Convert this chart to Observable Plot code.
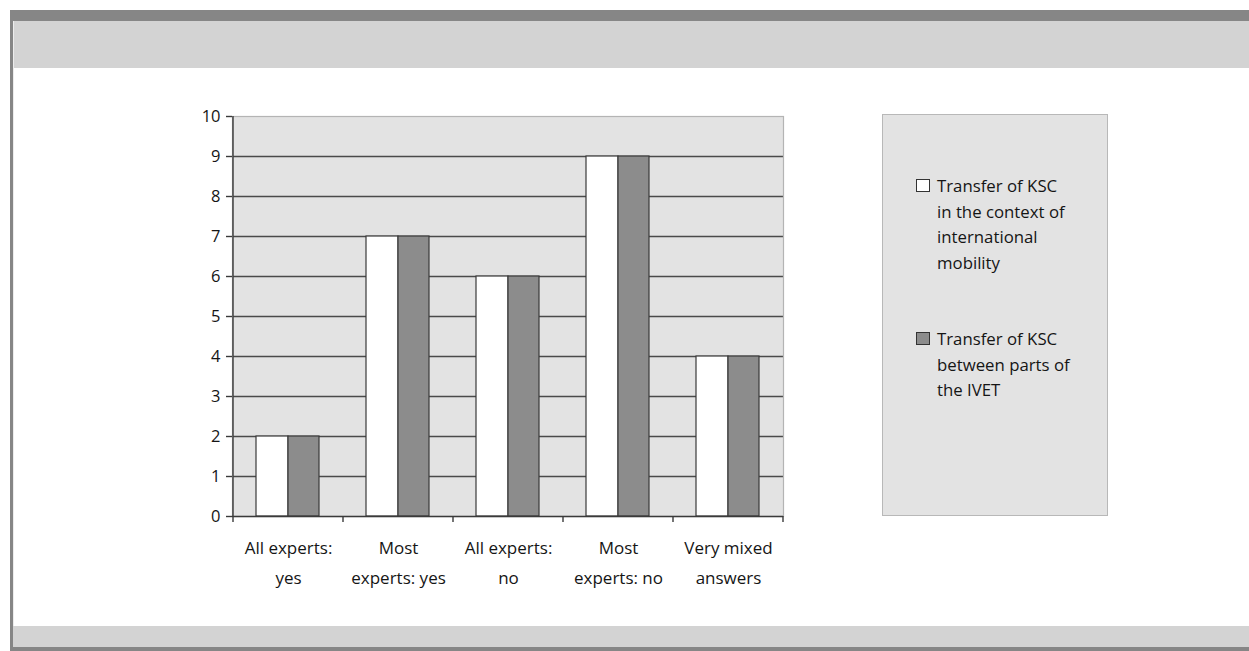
<!DOCTYPE html>
<html>
<head>
<meta charset="utf-8">
<script src="https://cdn.jsdelivr.net/npm/d3@7"></script>
<script src="https://cdn.jsdelivr.net/npm/@observablehq/plot@0.6"></script>
<style>
  html, body { margin: 0; padding: 0; background: #fff; overflow: hidden; }
  body { width: 1249px; height: 651px; position: relative; font-family: "Open Sans", sans-serif; }
  .band { position: absolute; }
  #chart { position: absolute; left: 0; top: 0; }
  #legend { position: absolute; left: 882px; top: 114px; width: 224px; height: 400px;
            background: #e3e3e3; border: 1px solid #b8b8b8; }
  .item { position: absolute; left: 0; font-size: 16.8px; line-height: 25.5px; color: #151515; }
  .swatch { position: absolute; width: 12px; height: 11px; border: 1px solid #333; }
  .label { position: absolute; left: 54px; white-space: nowrap; }
</style>
</head>
<body>
<div class="band" style="left:10px;top:10px;width:1239px;height:11px;background:#868686"></div>
<div class="band" style="left:13px;top:21px;width:1236px;height:47px;background:#d3d3d3"></div>
<div class="band" style="left:10px;top:10px;width:3px;height:641px;background:#868686"></div>
<div class="band" style="left:13px;top:21px;width:1px;height:605px;background:#ececec"></div>
<div class="band" style="left:13px;top:626px;width:1236px;height:21px;background:#d3d3d3"></div>
<div class="band" style="left:10px;top:647px;width:1239px;height:4px;background:#868686"></div>
<div id="chart"></div>
<div id="legend"></div>
<script>
const categories = ["All experts: yes", "Most experts: yes", "All experts: no", "Most experts: no", "Very mixed answers"];
const tickLabels = ["All experts:\nyes", "Most\nexperts: yes", "All experts:\nno", "Most\nexperts: no", "Very mixed\nanswers"];
const seriesNames = ["Transfer of KSC\nin the context of\ninternational\nmobility", "Transfer of KSC\nbetween parts of\nthe IVET"];
const mobilityValues = [2, 7, 6, 9, 4];
const ivetValues = [2, 7, 6, 9, 4];
const yTicks = [0, 1, 2, 3, 4, 5, 6, 7, 8, 9, 10];
const seriesColors = ["#ffffff", "#8c8c8c"];

const data = categories.map((c, i) => ({category: c, mobility: mobilityValues[i], ivet: ivetValues[i]}));

const chart = Plot.plot({
  width: 1249,
  height: 651,
  marginLeft: 232,
  marginRight: 466,
  marginTop: 116,
  marginBottom: 135,
  style: {background: "transparent", fontFamily: "'Open Sans', sans-serif", fontSize: "17px", color: "#151515"},
  x: {domain: categories, padding: 0, axis: null},
  y: {domain: [0, 10], axis: null},
  marks: [
    Plot.frame({fill: "#e3e3e3"}),
    Plot.ruleY(yTicks.slice(1, -1), {stroke: "#4a4a4a", strokeWidth: 1.4}),
    Plot.frame({stroke: "#b4b4b4", strokeWidth: 1.2}),
    Plot.barY(data, {x: "category", y: "mobility", fill: seriesColors[0], stroke: "#3a3a3a", strokeWidth: 1.2, insetLeft: 23, insetRight: 55}),
    Plot.barY(data, {x: "category", y: "ivet", fill: seriesColors[1], stroke: "#3a3a3a", strokeWidth: 1.2, insetLeft: 55, insetRight: 24}),
    Plot.ruleY([0], {stroke: "#3a3a3a", strokeWidth: 1.4}),
    Plot.axisY({ticks: yTicks, tickSize: 6, tickPadding: 6, stroke: "#3a3a3a", strokeWidth: 1.4, tickFormat: d => String(d), label: null, fontSize: 16.5}),
    Plot.axisX({tickSize: 0, tickPadding: 17, lineHeight: 1.72, tickFormat: (d) => tickLabels[categories.indexOf(d)], label: null, fontSize: 17})
  ]
});
document.getElementById("chart").appendChild(chart);

// Axis line and category-boundary ticks, placed with the plot's own scales
const sx = chart.scale("x");
const sy = chart.scale("y");
const yBase = sy.apply(0);
const yTop = sy.apply(10);
const edges = categories.map(c => sx.apply(c)).concat([sx.apply(categories[categories.length - 1]) + sx.bandwidth]);
const g = d3.select(chart).append("g").attr("stroke", "#3a3a3a").attr("stroke-width", 1.4);
g.append("line").attr("x1", edges[0]).attr("x2", edges[0]).attr("y1", yTop).attr("y2", yBase);
g.selectAll("line.edge").data(edges).join("line").attr("class", "edge")
  .attr("x1", d => d).attr("x2", d => d).attr("y1", yBase).attr("y2", yBase + 6);

// Legend
const legend = document.getElementById("legend");
const itemTops = [64, 217];
seriesNames.forEach((name, i) => {
  const item = document.createElement("div");
  item.className = "item";
  item.style.top = itemTops[i] + "px";
  const sw = document.createElement("div");
  sw.className = "swatch";
  sw.style.left = "33px";
  sw.style.top = "0px";
  sw.style.background = seriesColors[i];
  const lab = document.createElement("div");
  lab.className = "label";
  lab.style.top = "-6px";
  lab.innerHTML = name.split("\n").join("<br>");
  item.appendChild(sw);
  item.appendChild(lab);
  legend.appendChild(item);
});
</script>
</body>
</html>
